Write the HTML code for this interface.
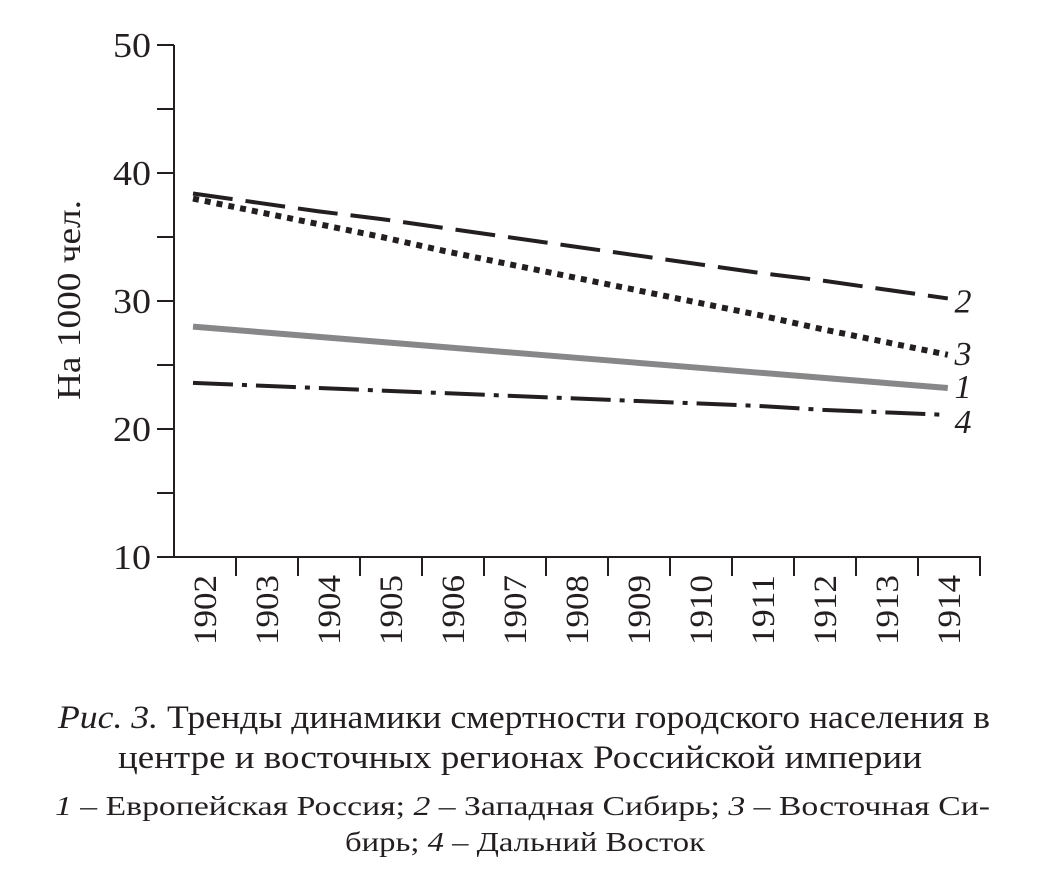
<!DOCTYPE html>
<html><head><meta charset="utf-8"><style>
body{margin:0;background:#fff;}
svg{display:block;font-family:"Liberation Serif",serif;}
</style></head><body>
<svg width="1044" height="888">
<g id="axes"></g><g id="series"></g>
<text transform="translate(80,300) rotate(-90)" text-anchor="middle" font-size="34" textLength="200" lengthAdjust="spacingAndGlyphs" fill="#231f20">На 1000 чел.</text>
<g fill="#231f20">
<text x="58" y="728" font-size="33" textLength="932" lengthAdjust="spacingAndGlyphs"><tspan font-style="italic">Рис. 3.</tspan> Тренды динамики смертности городского населения в</text>
<text x="118" y="768" font-size="33" textLength="804" lengthAdjust="spacingAndGlyphs">центре и восточных регионах Российской империи</text>
<text x="55" y="815" font-size="27" textLength="935" lengthAdjust="spacingAndGlyphs"><tspan font-style="italic">1</tspan> – Европейская Россия; <tspan font-style="italic">2</tspan> – Западная Сибирь; <tspan font-style="italic">3</tspan> – Восточная Си-</text>
<text x="345" y="851" font-size="27" textLength="360" lengthAdjust="spacingAndGlyphs">бирь; <tspan font-style="italic">4</tspan> – Дальний Восток</text>
</g>
</svg>
<script>
const years=[1902,1903,1904,1905,1906,1907,1908,1909,1910,1911,1912,1913,1914];
const yTicks=[10,20,30,40,50];
const s1=[28.0,27.6,27.2,26.8,26.4,26.0,25.6,25.2,24.8,24.4,24.0,23.6,23.2];
const s2=[38.4,37.7,37.0,36.4,35.7,35.0,34.3,33.6,32.9,32.2,31.6,30.9,30.2];
const s3=[38.0,37.0,36.0,35.0,33.9,32.9,31.9,30.9,29.9,28.9,27.8,26.8,25.8];
const s4=[23.6,23.4,23.2,23.0,22.8,22.6,22.4,22.2,22.0,21.8,21.5,21.3,21.1];
const labels=["1","2","3","4"];
const NS="http://www.w3.org/2000/svg";
const y=v=>557-(v-10)*12.8;
const bandX=i=>174+31+62*i;
const lineX=i=>193+i*62.9;
const ax=document.getElementById('axes'),se=document.getElementById('series');
function mk(tag,attrs,parent){const e=document.createElementNS(NS,tag);for(const k in attrs)e.setAttribute(k,attrs[k]);parent.appendChild(e);return e;}
let e=mk('line',{x1:174,y1:45,x2:174,y2:558,stroke:'#231f20','stroke-width':2},ax);


e=mk('line',{x1:173,y1:557,x2:981,y2:557,stroke:'#231f20','stroke-width':2},ax);


for(let v=10;v<=50;v+=5){e=mk('line',{x1:157,y1:y(v),x2:174,y2:y(v),stroke:'#231f20','stroke-width':2},ax);

}
yTicks.forEach(v=>{e=mk('text',{x:151,y:y(v)+12,'text-anchor':'end','font-size':35,textLength:38,lengthAdjust:'spacingAndGlyphs',fill:'#231f20'},ax);e.textContent=v;

});
years.forEach((yr,i)=>{e=mk('line',{x1:174+62*(i+1),y1:557,x2:174+62*(i+1),y2:576,stroke:'#231f20','stroke-width':2},ax);


e=mk('text',{transform:`translate(${bandX(i)+11},610) rotate(-90)`,'text-anchor':'middle','font-size':33,textLength:70,lengthAdjust:'spacingAndGlyphs',fill:'#231f20'},ax);e.textContent=yr;

});
const styles=[{d:s1,c:'#87878a',w:6,da:'',n:'series-1-european-russia'},
{d:s2,c:'#231f20',w:4,da:'40 13',n:'series-2-west-siberia'},
{d:s3,c:'#231f20',w:6,da:'6 6',n:'series-3-east-siberia'},
{d:s4,c:'#231f20',w:4,da:'40 9 5 9',n:'series-4-far-east'}];
styles.forEach((s,k)=>{const pts=s.d.map((v,i)=>lineX(i)+','+y(v)).join(' ');
e=mk('polyline',{points:pts,fill:'none',stroke:s.c,'stroke-width':s.w,'stroke-dasharray':s.da},se);


e=mk('text',{x:963,y:y(s.d[s.d.length-1])+(k===0?10:k===1?14:k===2?10:18),'text-anchor':'middle','font-size':34,'font-style':'italic',fill:'#231f20'},se);e.textContent=labels[k];

});
</script>
</body></html>
